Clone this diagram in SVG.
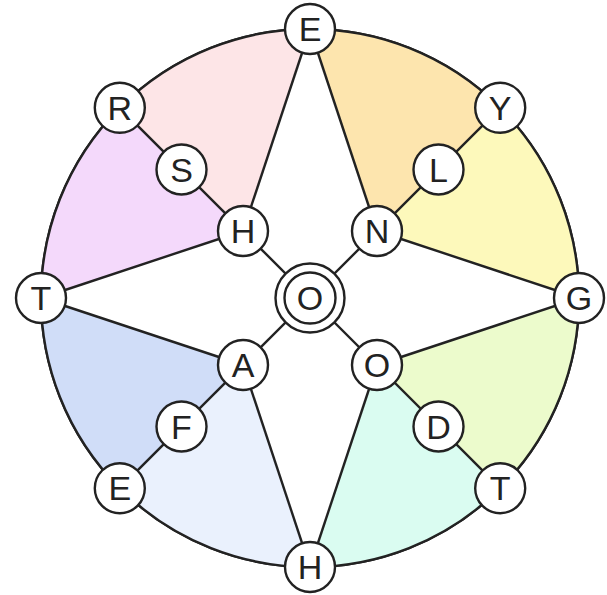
<svg xmlns="http://www.w3.org/2000/svg" width="607" height="595" viewBox="0 0 607 595">
<style>
.node circle{fill:#ffffff;stroke:#222;stroke-width:2.4}
.node text{font-family:"Liberation Sans",Arial,sans-serif;font-size:34px;fill:#222;text-anchor:middle}
.edge{stroke:#222;stroke-width:2.4;fill:none}
.rim{fill:#ffffff;stroke:#222;stroke-width:2.4}
</style>
<rect width="607" height="595" fill="#ffffff"/>
<g id="sectors">
<circle class="rim" cx="310" cy="298" r="269"/>
<path d="M310 29 A269 269 0 0 0 119.8 107.8 L243 231 Z" fill="#fde5e7"/>
<path d="M119.8 107.8 A269 269 0 0 0 41 298 L243 231 Z" fill="#f4d9fb"/>
<path d="M41 298 A269 269 0 0 0 119.8 488.2 L243 365 Z" fill="#d0ddf8"/>
<path d="M119.8 488.2 A269 269 0 0 0 310 567 L243 365 Z" fill="#eaf1fd"/>
<path d="M310 567 A269 269 0 0 0 500.2 488.2 L377 365 Z" fill="#dafcf1"/>
<path d="M500.2 488.2 A269 269 0 0 0 579 298 L377 365 Z" fill="#ecfbcc"/>
<path d="M579 298 A269 269 0 0 0 500.2 107.8 L377 231 Z" fill="#fdf9bb"/>
<path d="M500.2 107.8 A269 269 0 0 0 310 29 L377 231 Z" fill="#fde5ae"/>
<circle cx="310" cy="298" r="269" fill="none" stroke="#222" stroke-width="2.4"/>
</g>
<g id="connectors">
<line class="edge" x1="310" y1="29" x2="243" y2="231"/>
<line class="edge" x1="310" y1="29" x2="377" y2="231"/>
<line class="edge" x1="41" y1="298" x2="243" y2="231"/>
<line class="edge" x1="41" y1="298" x2="243" y2="365"/>
<line class="edge" x1="579" y1="298" x2="377" y2="231"/>
<line class="edge" x1="579" y1="298" x2="377" y2="365"/>
<line class="edge" x1="310" y1="567" x2="243" y2="365"/>
<line class="edge" x1="310" y1="567" x2="377" y2="365"/>
<line class="edge" x1="119.8" y1="107.8" x2="310" y2="298"/>
<line class="edge" x1="500.2" y1="107.8" x2="310" y2="298"/>
<line class="edge" x1="119.8" y1="488.2" x2="310" y2="298"/>
<line class="edge" x1="500.2" y1="488.2" x2="310" y2="298"/>
</g>
<g id="node-E-top" class="node"><circle cx="310" cy="29" r="25"/><text x="310" y="41">E</text></g>
<g id="node-T-left" class="node"><circle cx="41" cy="298" r="25"/><text x="41" y="310">T</text></g>
<g id="node-G" class="node"><circle cx="579" cy="298" r="25"/><text x="579" y="310">G</text></g>
<g id="node-H-bottom" class="node"><circle cx="310" cy="567" r="25"/><text x="310" y="579">H</text></g>
<g id="node-R" class="node"><circle cx="119.8" cy="107.8" r="25"/><text x="119.8" y="119.8">R</text></g>
<g id="node-Y" class="node"><circle cx="500.2" cy="107.8" r="25"/><text x="500.2" y="119.8">Y</text></g>
<g id="node-E-bottom" class="node"><circle cx="119.8" cy="488.2" r="25"/><text x="119.8" y="500.2">E</text></g>
<g id="node-T-bottom" class="node"><circle cx="500.2" cy="488.2" r="25"/><text x="500.2" y="500.2">T</text></g>
<g id="node-S" class="node"><circle cx="181.5" cy="169.5" r="25"/><text x="181.5" y="181.5">S</text></g>
<g id="node-L" class="node"><circle cx="438.5" cy="169.5" r="25"/><text x="438.5" y="181.5">L</text></g>
<g id="node-F" class="node"><circle cx="181.5" cy="426.5" r="25"/><text x="181.5" y="438.5">F</text></g>
<g id="node-D" class="node"><circle cx="438.5" cy="426.5" r="25"/><text x="438.5" y="438.5">D</text></g>
<g id="node-H-inner" class="node"><circle cx="243" cy="231" r="25"/><text x="243" y="243">H</text></g>
<g id="node-N" class="node"><circle cx="377" cy="231" r="25"/><text x="377" y="243">N</text></g>
<g id="node-A" class="node"><circle cx="243" cy="365" r="25"/><text x="243" y="377">A</text></g>
<g id="node-O-inner" class="node"><circle cx="377" cy="365" r="25"/><text x="377" y="377">O</text></g>
<g id="node-O-center" class="node"><circle cx="310" cy="298" r="34.5"/><circle cx="310" cy="298" r="25.5"/><text x="310" y="310">O</text></g>
</svg>
